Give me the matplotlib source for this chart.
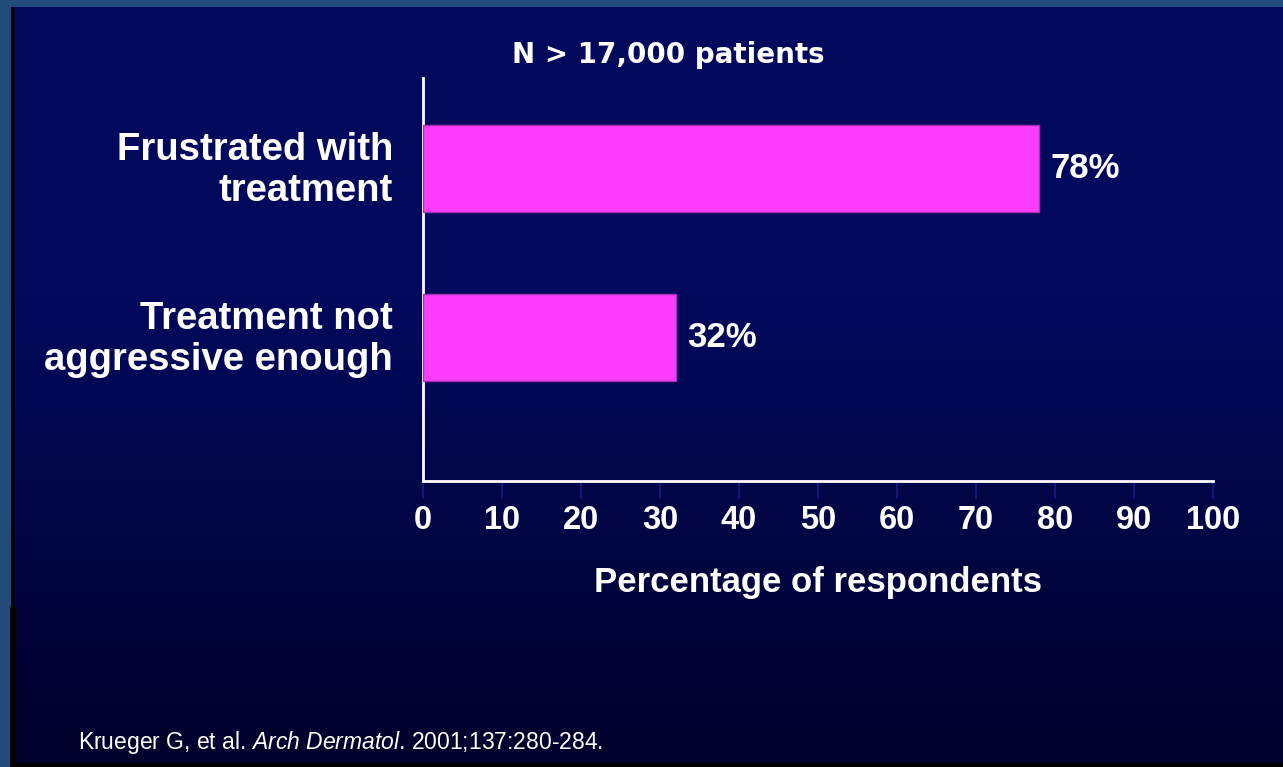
import numpy as np
import matplotlib
matplotlib.use('Agg')
import matplotlib.pyplot as plt
from matplotlib.transforms import ScaledTranslation

# Chart data
categories = ['Frustrated with\ntreatment', 'Treatment not\naggressive enough']
percentages = [78, 32]
value_labels = ['78%', '32%']
x_ticks = [0, 10, 20, 30, 40, 50, 60, 70, 80, 90, 100]
title = 'N > 17,000 patients'
x_title = 'Percentage of respondents'
citation = r'Krueger G, et al. $\mathit{Arch\ Dermatol}$. 2001;137:280-284.'

width_px, height_px = 1283, 767
dpi = 100

plt.rcParams['mathtext.fontset'] = 'custom'
plt.rcParams['mathtext.rm'] = 'Liberation Sans'
plt.rcParams['mathtext.it'] = 'Liberation Sans:italic'

fig = plt.figure(figsize=(width_px / dpi, height_px / dpi), dpi=dpi)

# Slide background: navy gradient with the blue frame on top and left
top_color = np.array([2, 9, 92]) / 255.0
bottom_color = np.array([0, 1, 42]) / 255.0
rows = np.arange(height_px)
t = np.clip((rows - 300) / (height_px - 300), 0, 1)[:, None]
column = top_color * (1 - t) + bottom_color * t
bg = np.repeat(column[:, None, :], width_px, axis=1)
frame = np.array([34, 75, 124]) / 255.0
bg[:7, :] = frame
bg[:, :11] = frame
bg[7:607, 11:14] = 0
bg[607:, 10:16] = 0
bg[607:, :10] = frame
bg[763:, 10:] = 0
fig.figimage(bg, xo=0, yo=0, origin='upper', zorder=-10)

ax = fig.add_axes([423 / width_px, 286 / height_px,
                   790 / width_px, 403 / height_px])
ax.set_facecolor('none')

positions = np.arange(len(categories))
ax.barh(positions, percentages, height=0.515, color='#ff3dff',
        edgecolor='#a232b4', linewidth=1, zorder=3)

for pos, value, label in zip(positions, percentages, value_labels):
    ax.annotate(label, xy=(value, pos), xytext=(8, 0), textcoords='offset points',
                ha='left', va='center', color='white', fontsize=25,
                fontweight='bold', family='Liberation Sans')

ax.set_xlim(0, 100)
ax.set_ylim(1.849, -0.536)

ax.set_xticks(x_ticks)
ax.set_xticklabels([str(v) for v in x_ticks], fontsize=23.5, fontweight='bold',
                   family=['Liberation Sans Narrow', 'Liberation Sans'], color='white')
ax.tick_params(axis='x', length=13, width=1.2, color='#1a1a80', pad=4)

ax.set_yticks(positions)
ax.set_yticklabels(categories, fontsize=27.5, fontweight='bold',
                   family='Liberation Sans', color='white', linespacing=1.15)
ax.tick_params(axis='y', length=0, pad=21.5)
# nudge the category labels up a little
for lbl in ax.get_yticklabels():
    lbl.set_transform(lbl.get_transform() + ScaledTranslation(0, 3 / 72, fig.dpi_scale_trans))

for side in ['top', 'right']:
    ax.spines[side].set_visible(False)
for side in ['left', 'bottom']:
    ax.spines[side].set_color('white')
    ax.spines[side].set_linewidth(2)

ax.set_xlabel(x_title, fontsize=25, fontweight='bold', family='Liberation Sans',
              color='white', labelpad=22)

fig.text(668.5 / width_px, 1 - 63.3 / height_px, title, ha='center', va='baseline',
         color='white', fontsize=20, fontweight='bold', family='DejaVu Sans')

fig.text(78 / width_px, 1 - 749.3 / height_px, citation, ha='left', va='baseline',
         color='white', fontsize=16.5, family='Liberation Sans')

fig.savefig('out.png', dpi=dpi)
